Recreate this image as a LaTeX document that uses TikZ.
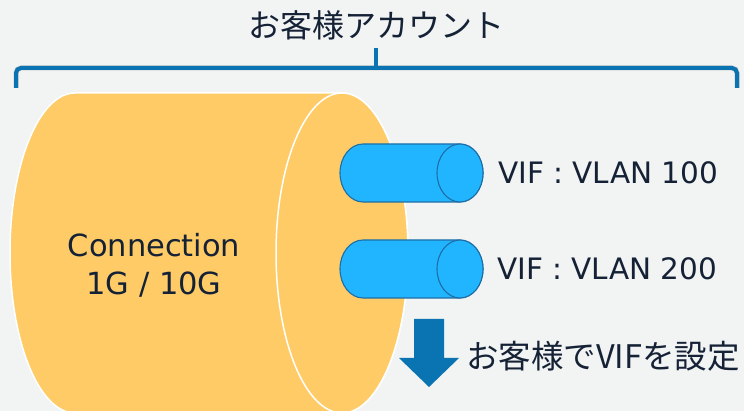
\documentclass[tikz,border=0pt]{standalone}
\usepackage{fontspec}
\setmainfont{DejaVu Sans}
\newfontfamily\jp{Noto Sans CJK JP}
\definecolor{bg}{HTML}{F2F3F3}
\definecolor{yel}{HTML}{FECB66}
\definecolor{cyanf}{HTML}{22B5FF}
\definecolor{cyand}{HTML}{1C6EA6}
\definecolor{navy}{HTML}{0A74B2}
\definecolor{txt}{HTML}{152236}
\begin{document}
\begin{tikzpicture}[x=1pt,y=1pt,
  yelbody/.style={fill=yel,draw=white,line width=1.5pt},
  pipe/.style={fill=cyanf,draw=cyand,line width=1.1pt},
  lbl/.style={font=\fontsize{29.5}{36}\selectfont,text=txt,inner sep=0pt},
  connlbl/.style={font=\fontsize{30.5}{38}\selectfont,text=txt,inner sep=0pt,align=center},
  jplbl/.style={font=\jp\fontsize{32.5}{36}\selectfont,text=txt,inner sep=0pt},
  titlelbl/.style={font=\jp\fontsize{32}{36}\selectfont,text=txt,inner sep=0pt},
  brace/.style={draw=navy,line width=4pt,rounded corners=5pt},
  braceshadow/.style={draw=black,opacity=0.18,line width=5pt,rounded corners=5pt}]
\fill[bg] (0,0) rectangle (744,411);
\useasboundingbox (0,0) rectangle (744,411);
\clip (0,0) rectangle (744,411);
% big connection cylinder
\path[yelbody] (75,318) -- (342,318) arc[start angle=90,end angle=-90,x radius=66,y radius=160]
  -- (75,-2) arc[start angle=270,end angle=90,x radius=65,y radius=160] -- cycle;
\path[yelbody] (342,158) ellipse[x radius=66,y radius=160];
\node[connlbl] (conn) at (154,146) {Connection\\1G / 10G};
% VIF pipes
\path[pipe] (363,267) -- (460,267) arc[start angle=90,end angle=-90,x radius=23,y radius=29]
  -- (363,209) arc[start angle=270,end angle=90,x radius=23,y radius=29] -- cycle;
\path[pipe] (460,238) ellipse[x radius=23,y radius=29];
\path[pipe] (363,171) -- (460,171) arc[start angle=90,end angle=-90,x radius=23,y radius=29]
  -- (363,113) arc[start angle=270,end angle=90,x radius=23,y radius=29] -- cycle;
\path[pipe] (460,142) ellipse[x radius=23,y radius=29];
\node[lbl,anchor=west] (v1) at (498,238) {VIF : VLAN 100};
\node[lbl,anchor=west] (v2) at (497,142) {VIF : VLAN 200};
% arrow
\fill[navy] (414,92) -- (444,92) -- (444,53) -- (459,53) -- (429,24) -- (399,53) -- (414,53) -- cycle;
\node[jplbl,anchor=west] (set) at (466,55) {お客様でVIFを設定};
% bracket
\coordinate (bl) at (16,323);
\coordinate (br) at (737,323);
\coordinate (bm) at (376,343);
\coordinate (bt) at (376,363);
\begin{scope}[shift={(2,-3)}]
\draw[braceshadow] (bl) |- (bm) -| (br);
\end{scope}
\draw[brace] (bl) |- (bm) -| (br);
\draw[draw=navy,line width=4pt] (bm) -- (bt);
\node[titlelbl] (title) at (376,386) {お客様アカウント};
\end{tikzpicture}
\end{document}
